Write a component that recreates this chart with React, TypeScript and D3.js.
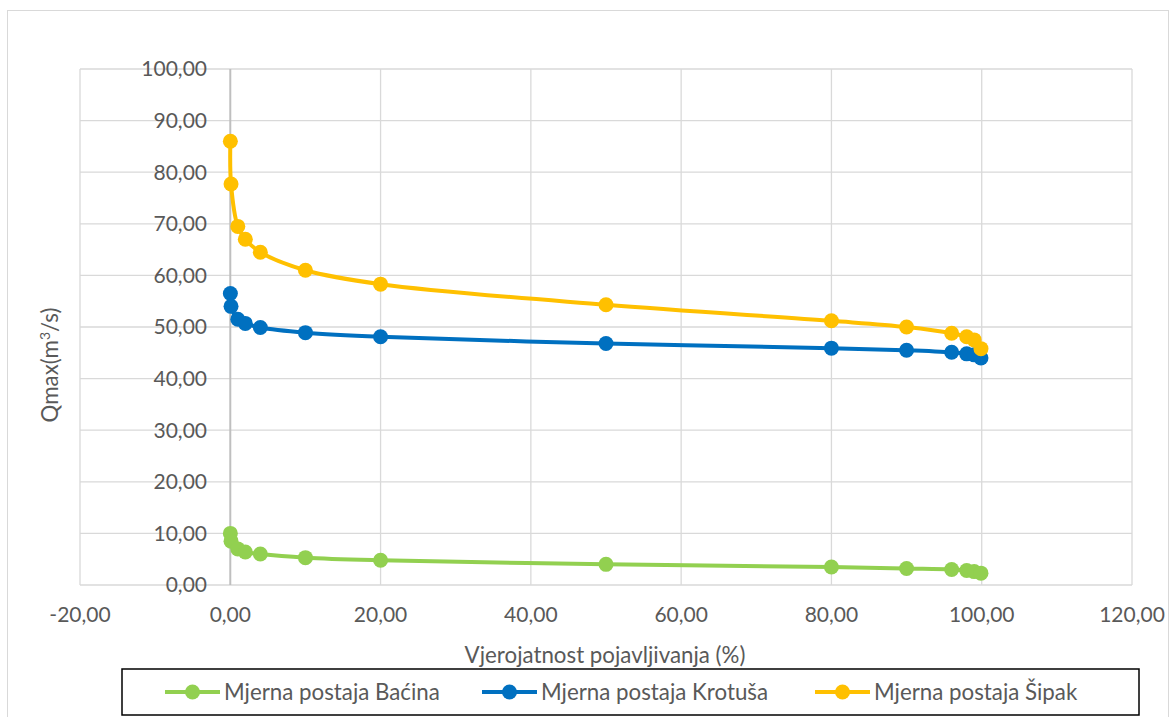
import React from "react";
import * as d3 from "d3";

const probabilities = [0.01, 0.1, 1, 2, 4, 10, 20, 50, 80, 90, 96, 98, 99, 99.9];
const bacina = [10.0, 8.5, 7.0, 6.4, 6.0, 5.3, 4.8, 4.0, 3.5, 3.2, 3.0, 2.8, 2.6, 2.3];
const krotusa = [56.5, 54.0, 51.5, 50.7, 49.9, 48.9, 48.1, 46.8, 45.9, 45.5, 45.1, 44.8, 44.6, 44.0];
const sipak = [86.0, 77.7, 69.5, 67.0, 64.5, 61.0, 58.3, 54.3, 51.2, 50.0, 48.8, 48.1, 47.5, 45.8];
const seriesNames = ["Mjerna postaja Baćina", "Mjerna postaja Krotuša", "Mjerna postaja Šipak"];
const seriesColors = ["#92D050", "#0070C0", "#FFC000"];
const xTicks = [-20, 0, 20, 40, 60, 80, 100, 120];
const yTicks = [0, 10, 20, 30, 40, 50, 60, 70, 80, 90, 100];

const fmt = (v: number) => v.toFixed(2).replace(".", ",");

export default function App() {
  const W = 1176, H = 717;
  const left = 80, right = 1132, top = 69, bottom = 585;
  const x = d3.scaleLinear().domain([-20, 120]).range([left, right]);
  const y = d3.scaleLinear().domain([0, 100]).range([bottom, top]);
  const allSeries = [bacina, krotusa, sipak];
  const line = d3
    .line<[number, number]>()
    .x((d) => x(d[0]))
    .y((d) => y(d[1]))
    .curve(d3.curveCatmullRom.alpha(0.5));
  const font = "Lato, 'Open Sans', sans-serif";
  const fs = 21;
  const fsBig = 22.3;
  const legendX = [165, 482, 815];
  return (
    <svg width={W} height={H} style={{ position: "absolute", left: 0, top: 0 }} fontFamily={font}>
      <rect x={0} y={0} width={W} height={H} fill="#fff" />
      <rect x={7.5} y={10.5} width={1161} height={720} fill="none" stroke="#d9d9d9" strokeWidth={1} />
      {yTicks.map((t) => (
        <line key={"gy" + t} x1={left} x2={right} y1={y(t)} y2={y(t)} stroke="#d9d9d9" strokeWidth={1.3} />
      ))}
      {xTicks.map((t) => (
        <line key={"gx" + t} x1={x(t)} x2={x(t)} y1={top} y2={bottom} stroke={t === 0 ? "#bfbfbf" : "#d9d9d9"} strokeWidth={t === 0 ? 2 : 1.3} />
      ))}
      {yTicks.map((t) => (
        <text key={"ty" + t} x={207} y={y(t)} dy="0.35em" textAnchor="end" fontSize={fs} fill="#595959">
          {fmt(t)}
        </text>
      ))}
      {xTicks.map((t) => (
        <text key={"tx" + t} x={x(t)} y={615} dy="0.35em" textAnchor="middle" fontSize={fs} fill="#595959">
          {fmt(t)}
        </text>
      ))}
      <text x={605} y={655} dy="0.35em" textAnchor="middle" fontSize={fsBig} fill="#595959">
        Vjerojatnost pojavljivanja (%)
      </text>
      <text transform={`translate(50,365) rotate(-90)`} textAnchor="middle" dy="0.35em" fontSize={fsBig} fill="#595959">
        Qmax(m<tspan dy="-8" fontSize={14}>3</tspan><tspan dy="8">/s)</tspan>
      </text>
      {allSeries.map((vals, si) => {
        const pts = probabilities.map((p, i) => [p, vals[i]] as [number, number]);
        return (
          <g key={"s" + si}>
            <path d={line(pts) || ""} fill="none" stroke={seriesColors[si]} strokeWidth={4} />
            {pts.map((d, i) => (
              <circle key={i} cx={x(d[0])} cy={y(d[1])} r={7.5} fill={seriesColors[si]} />
            ))}
          </g>
        );
      })}
      <rect x={122} y={669} width={1017} height={46} fill="#fff" stroke="#000" strokeWidth={1.5} />
      {seriesNames.map((n, i) => (
        <g key={"l" + i}>
          <line x1={legendX[i]} x2={legendX[i] + 55} y1={692} y2={692} stroke={seriesColors[i]} strokeWidth={4} />
          <circle cx={legendX[i] + 27.5} cy={692} r={7.5} fill={seriesColors[i]} />
          <text x={legendX[i] + 59} y={692} dy="0.35em" fontSize={fsBig} fill="#595959">
            {n}
          </text>
        </g>
      ))}
    </svg>
  );
}
